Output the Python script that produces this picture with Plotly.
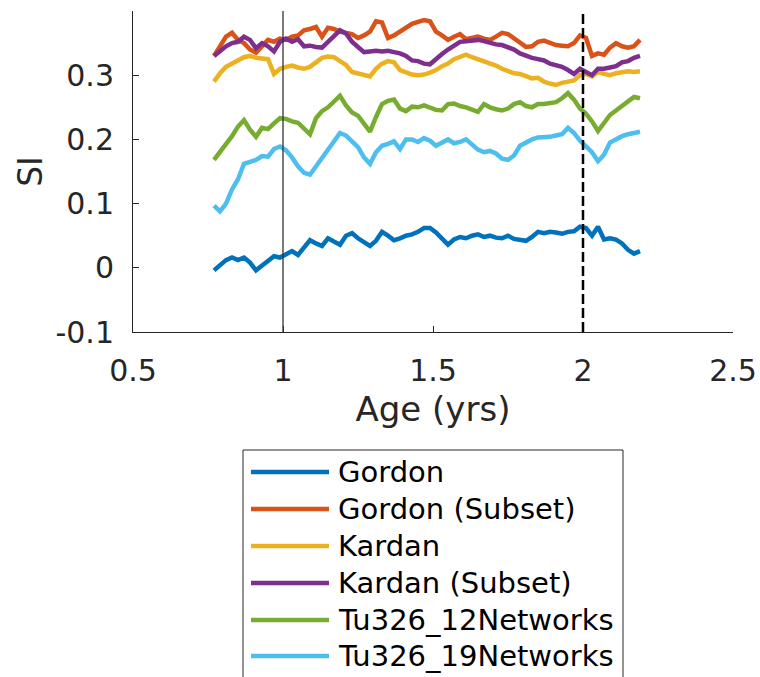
import plotly.graph_objects as go

age = [0.77, 0.79, 0.81, 0.83, 0.85, 0.87, 0.89, 0.91, 0.93, 0.95, 0.97, 0.99,
       1.01, 1.03, 1.05, 1.07, 1.09, 1.11, 1.13, 1.15, 1.17, 1.19, 1.21, 1.23,
       1.25, 1.27, 1.29, 1.31, 1.33, 1.35, 1.37, 1.39, 1.41, 1.43, 1.45, 1.47,
       1.49, 1.51, 1.53, 1.55, 1.57, 1.59, 1.61, 1.63, 1.65, 1.67, 1.69, 1.71,
       1.73, 1.75, 1.77, 1.79, 1.81, 1.83, 1.85, 1.87, 1.89, 1.91, 1.93, 1.95,
       1.97, 1.99, 2.01, 2.03, 2.05, 2.07, 2.09, 2.11, 2.13, 2.15, 2.17, 2.19]

gordon = [-0.004, 0.004, 0.012, 0.016, 0.012, 0.016, 0.008, -0.004, 0.004, 0.010, 0.018, 0.016,
          0.022, 0.026, 0.020, 0.032, 0.043, 0.038, 0.034, 0.046, 0.040, 0.036, 0.050, 0.054,
          0.046, 0.040, 0.034, 0.042, 0.056, 0.050, 0.043, 0.046, 0.050, 0.052, 0.056, 0.062,
          0.062, 0.055, 0.045, 0.036, 0.044, 0.048, 0.046, 0.050, 0.052, 0.048, 0.050, 0.047,
          0.046, 0.050, 0.045, 0.044, 0.042, 0.048, 0.056, 0.054, 0.056, 0.055, 0.053, 0.056,
          0.057, 0.064, 0.062, 0.050, 0.064, 0.044, 0.046, 0.044, 0.038, 0.028, 0.022, 0.026]

gordon_subset = [0.330, 0.345, 0.360, 0.366, 0.355, 0.350, 0.340, 0.335, 0.345, 0.355, 0.352, 0.357,
                 0.355, 0.360, 0.362, 0.370, 0.372, 0.375, 0.360, 0.374, 0.372, 0.368, 0.366, 0.364,
                 0.358, 0.362, 0.368, 0.384, 0.382, 0.358, 0.362, 0.368, 0.376, 0.380, 0.383, 0.386,
                 0.384, 0.368, 0.362, 0.355, 0.360, 0.364, 0.356, 0.358, 0.360, 0.357, 0.355, 0.360,
                 0.366, 0.364, 0.358, 0.350, 0.344, 0.345, 0.352, 0.354, 0.350, 0.347, 0.346, 0.345,
                 0.350, 0.362, 0.358, 0.330, 0.334, 0.332, 0.343, 0.350, 0.345, 0.343, 0.345, 0.355]

kardan = [0.290, 0.303, 0.313, 0.318, 0.324, 0.328, 0.330, 0.327, 0.326, 0.325, 0.302, 0.310,
          0.313, 0.315, 0.312, 0.310, 0.313, 0.320, 0.327, 0.329, 0.328, 0.322, 0.316, 0.305,
          0.303, 0.301, 0.298, 0.310, 0.318, 0.322, 0.320, 0.308, 0.304, 0.301, 0.300, 0.301,
          0.304, 0.308, 0.314, 0.318, 0.325, 0.329, 0.332, 0.328, 0.325, 0.322, 0.318, 0.315,
          0.310, 0.307, 0.303, 0.302, 0.298, 0.295, 0.296, 0.290, 0.287, 0.285, 0.288, 0.290,
          0.292, 0.300, 0.302, 0.298, 0.305, 0.302, 0.300, 0.303, 0.305, 0.306, 0.305, 0.306]

kardan_subset = [0.330, 0.338, 0.345, 0.350, 0.352, 0.360, 0.355, 0.342, 0.350, 0.345, 0.337, 0.352,
                 0.357, 0.352, 0.356, 0.345, 0.346, 0.344, 0.343, 0.352, 0.360, 0.370, 0.365, 0.352,
                 0.344, 0.336, 0.337, 0.338, 0.337, 0.338, 0.336, 0.334, 0.330, 0.323, 0.322, 0.318,
                 0.317, 0.326, 0.333, 0.340, 0.346, 0.352, 0.353, 0.354, 0.355, 0.353, 0.350, 0.348,
                 0.347, 0.344, 0.340, 0.334, 0.330, 0.327, 0.325, 0.323, 0.318, 0.316, 0.313, 0.308,
                 0.302, 0.310, 0.305, 0.300, 0.310, 0.310, 0.312, 0.314, 0.320, 0.322, 0.327, 0.330]

tu12 = [0.168, 0.180, 0.193, 0.205, 0.220, 0.230, 0.215, 0.204, 0.218, 0.216, 0.225, 0.233,
        0.232, 0.228, 0.226, 0.218, 0.208, 0.233, 0.244, 0.250, 0.258, 0.268, 0.253, 0.242,
        0.237, 0.225, 0.212, 0.235, 0.255, 0.260, 0.262, 0.248, 0.244, 0.251, 0.250, 0.253,
        0.250, 0.246, 0.245, 0.255, 0.256, 0.252, 0.250, 0.246, 0.243, 0.255, 0.250, 0.247,
        0.245, 0.248, 0.255, 0.258, 0.252, 0.250, 0.255, 0.255, 0.257, 0.258, 0.264, 0.272,
        0.262, 0.248, 0.240, 0.228, 0.213, 0.225, 0.238, 0.245, 0.252, 0.260, 0.266, 0.264]

tu19 = [0.097, 0.088, 0.100, 0.122, 0.138, 0.162, 0.165, 0.168, 0.174, 0.173, 0.185, 0.189,
        0.183, 0.172, 0.158, 0.148, 0.145, 0.158, 0.170, 0.183, 0.196, 0.210, 0.206, 0.198,
        0.188, 0.172, 0.162, 0.180, 0.190, 0.193, 0.197, 0.185, 0.200, 0.200, 0.196, 0.202,
        0.198, 0.190, 0.195, 0.200, 0.194, 0.196, 0.200, 0.193, 0.184, 0.180, 0.182, 0.178,
        0.170, 0.168, 0.175, 0.190, 0.195, 0.200, 0.203, 0.203, 0.204, 0.206, 0.208, 0.218,
        0.210, 0.198, 0.190, 0.180, 0.166, 0.176, 0.195, 0.200, 0.205, 0.208, 0.210, 0.212]

names = ["Gordon", "Gordon (Subset)", "Kardan", "Kardan (Subset)",
         "Tu326_12Networks", "Tu326_19Networks"]
series = [gordon, gordon_subset, kardan, kardan_subset, tu12, tu19]
colors = ["#0072BD", "#D95319", "#EDB120", "#7E2F8E", "#77AC30", "#4DBEEE"]

x_ticks = [0.5, 1, 1.5, 2, 2.5]
x_tick_text = ["0.5", "1", "1.5", "2", "2.5"]
y_ticks = [-0.1, 0, 0.1, 0.2, 0.3]
y_tick_text = ["-0.1", "0", "0.1", "0.2", "0.3"]
event_ages = [1, 2]

FONT = "DejaVu Sans"
AX = "#262626"

fig = go.Figure()
for name, ys, c in zip(names, series, colors):
    fig.add_trace(go.Scatter(x=age, y=ys, mode="lines", name=name,
                             line=dict(color=c, width=4.5), showlegend=False))

# vertical reference lines
fig.add_shape(type="line", xref="x", yref="paper", x0=event_ages[0], x1=event_ages[0],
              y0=0, y1=1, line=dict(color="#333333", width=1.3))
fig.add_shape(type="line", xref="x", yref="paper", x0=event_ages[1], x1=event_ages[1],
              y0=0, y1=1, line=dict(color="black", width=2.5, dash="10px,4px"))

# manual MATLAB-style legend
L, R, T, B = 133, 733, 11, 332
W, H = R - L, B - T
def px(v):
    return (v - L) / W
def py(v):
    return (B - v) / H

fig.add_shape(type="rect", xref="paper", yref="paper", x0=px(243), x1=px(623),
              y0=py(700), y1=py(450), line=dict(color="#262626", width=1),
              fillcolor="white", layer="above")
rows = [472, 509, 546, 583, 620, 656]
for name, c, r in zip(names, colors, rows):
    fig.add_shape(type="line", xref="paper", yref="paper", x0=px(251), x1=px(329),
                  y0=py(r), y1=py(r), line=dict(color=c, width=4.5), layer="above")
    fig.add_annotation(xref="paper", yref="paper", x=px(336), y=py(r), text=name,
                       showarrow=False, xanchor="left", yanchor="middle",
                       font=dict(family=FONT, size=29, color="black"))

fig.update_layout(
    width=760, height=677,
    margin=dict(l=L, r=760 - R, t=T, b=677 - B, autoexpand=False),
    paper_bgcolor="white", plot_bgcolor="white",
    font=dict(family=FONT, color=AX),
)
fig.update_xaxes(range=[0.5, 2.5], tickvals=x_ticks, ticktext=x_tick_text,
                 automargin=False,
                 showgrid=False, zeroline=False, showline=True, linecolor=AX,
                 linewidth=1, ticks="inside", ticklen=6, tickcolor=AX,
                 ticklabelstandoff=12,
                 tickfont=dict(family=FONT, size=30, color=AX),
                 title=dict(text="Age (yrs)", font=dict(family=FONT, size=34, color=AX),
                            standoff=10))
fig.update_yaxes(range=[-0.1, 0.4], tickvals=y_ticks, ticktext=y_tick_text,
                 automargin=False,
                 showgrid=False, zeroline=False, showline=True, linecolor=AX,
                 linewidth=1, ticks="inside", ticklen=6, tickcolor=AX,
                 ticklabelstandoff=12,
                 tickfont=dict(family=FONT, size=30, color=AX),
                 title=dict(text="SI", font=dict(family=FONT, size=33, color=AX),
                            standoff=2))

fig.write_html("out.html")
